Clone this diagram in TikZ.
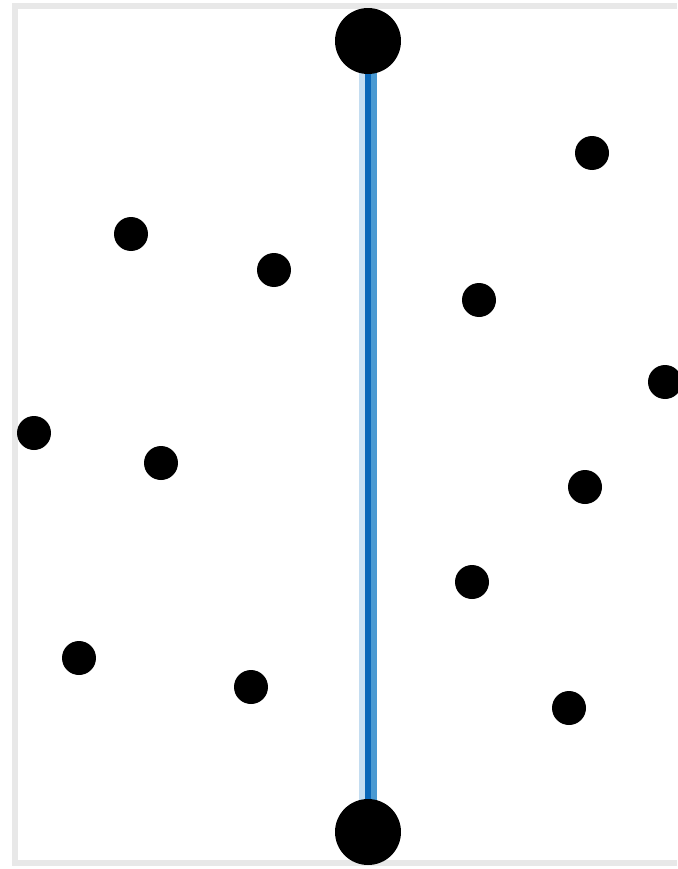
\documentclass[tikz,border=0pt]{standalone}
\usepackage{tikz}
\usepackage{xcolor}
\usetikzlibrary{positioning, calc}
\definecolor{frame}{HTML}{E8E8E8}
\definecolor{ink}{HTML}{000000}
\definecolor{seamsoft}{HTML}{C4DDF1}
\definecolor{seammid}{HTML}{4A9AD2}
\definecolor{seam}{HTML}{0A67B8}
\tikzset{
  %
  pt/.style={circle, fill=ink, draw=none, inner sep=0pt, minimum size=0.68cm},
  pole/.style={circle, fill=ink, draw=none, inner sep=0pt, minimum size=1.32cm},
  %
  edge/.style={draw=frame, line width=0.12cm},
  seamwide/.style={draw=seamsoft, line width=0.36cm},
  seamhalf/.style={draw=seammid, line width=0.24cm},
  seamcore/.style={draw=seam, line width=0.12cm},
}
\begin{document}
\begin{tikzpicture}[x=0.02cm, y=-0.02cm]

  \useasboundingbox[fill=white] (0,0) rectangle (677,869);

  % frame, open on the right
  \draw[edge] (677,5.5) -- (15,5.5) -- (15,863) -- (677,863);

  % the two poles, placed first as coordinates
  \coordinate (topc) at (368,41);
  \coordinate (botc) at (368,832);

  % separating segment
  \draw[seamwide] (topc) -- (botc);
  \draw[seamhalf] ([xshift=3*0.02cm]topc) -- ([xshift=3*0.02cm]botc);
  \draw[seamcore] (topc) -- (botc);

  \node[pole] (top) at (topc) {};
  \node[pole] (bot) at (botc) {};

  % left points
  \node[pt] (l1) at (131,234) {};
  \node[pt] (l2) at (274,270) {};
  \node[pt] (l3) at (34,433) {};
  \node[pt] (l4) at (161,463) {};
  \node[pt] (l5) at (79,658) {};
  \node[pt] (l6) at (251,687) {};

  % right points
  \node[pt] (r1) at (592,153) {};
  \node[pt] (r2) at (479,300) {};
  \node[pt] (r3) at (665,382) {};
  \node[pt] (r4) at (585,487) {};
  \node[pt] (r5) at (472,582) {};
  \node[pt] (r6) at (569,708) {};

\end{tikzpicture}
\end{document}
